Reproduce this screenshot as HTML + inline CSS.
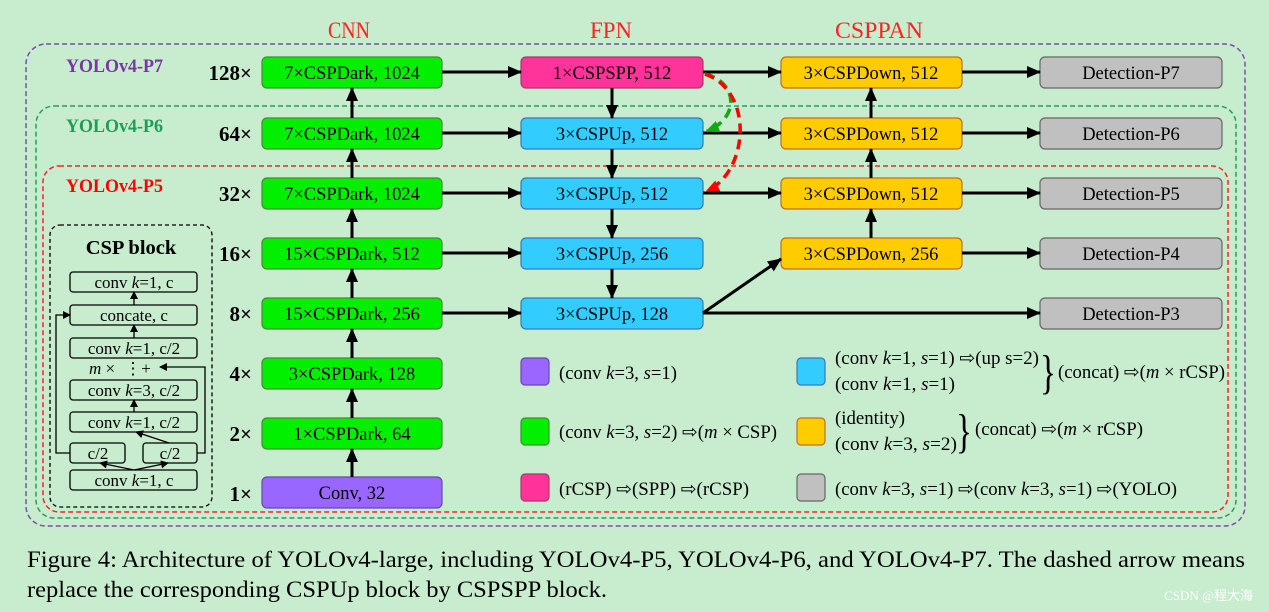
<!DOCTYPE html>
<html><head><meta charset="utf-8"><style>
html,body{margin:0;padding:0;background:#c7ecce;}
svg{display:block}
text{font-family:"Liberation Serif",serif;}
</style></head><body>
<svg width="1269" height="612" viewBox="0 0 1269 612" xmlns="http://www.w3.org/2000/svg">
<defs>
<marker id="a" markerWidth="8" markerHeight="8" refX="7" refY="4" orient="auto" markerUnits="userSpaceOnUse" viewBox="0 0 8 8"><path d="M0,0 L8,4 L0,8 z" fill="#000"/></marker>
<marker id="ab" markerWidth="14" markerHeight="12" refX="13" refY="6" orient="auto" markerUnits="userSpaceOnUse" viewBox="0 0 14 12"><path d="M0,0 L14,6 L0,12 z" fill="#000"/></marker>
<marker id="ar" markerWidth="14" markerHeight="12" refX="12" refY="6" orient="auto" markerUnits="userSpaceOnUse" viewBox="0 0 14 12"><path d="M0,0 L14,6 L0,12 z" fill="#f00"/></marker>
<marker id="ag" markerWidth="14" markerHeight="12" refX="12" refY="6" orient="auto" markerUnits="userSpaceOnUse" viewBox="0 0 14 12"><path d="M0,0 L14,6 L0,12 z" fill="#1a1"/></marker>
</defs>
<rect width="1269" height="612" fill="#c7ecce"/>
<text x="349" y="38" font-size="23" fill="#f22" text-anchor="middle" textLength="42" lengthAdjust="spacingAndGlyphs">CNN</text>
<text x="611" y="38" font-size="23" fill="#f22" text-anchor="middle" textLength="42" lengthAdjust="spacingAndGlyphs">FPN</text>
<text x="879" y="38" font-size="23" fill="#f22" text-anchor="middle" textLength="88" lengthAdjust="spacingAndGlyphs">CSPPAN</text>
<rect x="26" y="44" width="1219" height="482" rx="20" fill="none" stroke="#7b4fa8" stroke-width="1.5" stroke-dasharray="5,3"/>
<rect x="36" y="106" width="1200" height="412" rx="18" fill="none" stroke="#22a060" stroke-width="1.5" stroke-dasharray="5,3"/>
<rect x="43" y="166" width="1185" height="346" rx="16" fill="none" stroke="#f22" stroke-width="1.5" stroke-dasharray="5,3"/>
<g font-weight="bold" font-size="19">
<text x="66" y="72" fill="#7b35a8" textLength="97" lengthAdjust="spacingAndGlyphs">YOLOv4-P7</text>
<text x="66" y="132" fill="#1e9e55" textLength="97" lengthAdjust="spacingAndGlyphs">YOLOv4-P6</text>
<text x="66" y="192" fill="#f00" textLength="97" lengthAdjust="spacingAndGlyphs">YOLOv4-P5</text>
</g>
<g font-weight="bold" font-size="21" text-anchor="end">
<text x="252" y="80">128×</text>
<text x="252" y="141">64×</text>
<text x="252" y="201">32×</text>
<text x="252" y="261">16×</text>
<text x="252" y="321">8×</text>
<text x="252" y="381">4×</text>
<text x="252" y="441">2×</text>
<text x="252" y="501">1×</text>
</g>
<g stroke="#4a8a3a" stroke-width="1.2" fill="#00f000">
<rect x="262" y="57" width="180" height="31" rx="5"/>
<rect x="262" y="118" width="180" height="31" rx="5"/>
<rect x="262" y="178" width="180" height="31" rx="5"/>
<rect x="262" y="238" width="180" height="31" rx="5"/>
<rect x="262" y="298" width="180" height="31" rx="5"/>
<rect x="262" y="358" width="180" height="31" rx="5"/>
<rect x="262" y="418" width="180" height="31" rx="5"/>
</g>
<rect x="262" y="477" width="180" height="31" rx="5" fill="#9966ff" stroke="#6a4aa8" stroke-width="1.2"/>
<rect x="521" y="57" width="182" height="31" rx="5" fill="#ff3399" stroke="#a83a6a" stroke-width="1.2"/>
<g stroke="#3a78b8" stroke-width="1.2" fill="#33ccff">
<rect x="521" y="118" width="182" height="31" rx="5"/>
<rect x="521" y="178" width="182" height="31" rx="5"/>
<rect x="521" y="238" width="182" height="31" rx="5"/>
<rect x="521" y="298" width="182" height="31" rx="5"/>
</g>
<g stroke="#c07020" stroke-width="1.2" fill="#ffcc00">
<rect x="781" y="57" width="181" height="31" rx="5"/>
<rect x="781" y="118" width="181" height="31" rx="5"/>
<rect x="781" y="178" width="181" height="31" rx="5"/>
<rect x="781" y="238" width="181" height="31" rx="5"/>
</g>
<g stroke="#666" stroke-width="1.2" fill="#c0c0c0">
<rect x="1040" y="57" width="182" height="31" rx="5"/>
<rect x="1040" y="118" width="182" height="31" rx="5"/>
<rect x="1040" y="178" width="182" height="31" rx="5"/>
<rect x="1040" y="238" width="182" height="31" rx="5"/>
<rect x="1040" y="298" width="182" height="31" rx="5"/>
</g>
<g font-size="18.5" text-anchor="middle">
<text x="352" y="79">7×CSPDark, 1024</text>
<text x="352" y="140">7×CSPDark, 1024</text>
<text x="352" y="200">7×CSPDark, 1024</text>
<text x="352" y="260">15×CSPDark, 512</text>
<text x="352" y="320">15×CSPDark, 256</text>
<text x="352" y="380">3×CSPDark, 128</text>
<text x="352" y="440">1×CSPDark, 64</text>
<text x="352" y="499">Conv, 32</text>
<text x="612" y="79">1×CSPSPP, 512</text>
<text x="612" y="140">3×CSPUp, 512</text>
<text x="612" y="200">3×CSPUp, 512</text>
<text x="612" y="260">3×CSPUp, 256</text>
<text x="612" y="320">3×CSPUp, 128</text>
<text x="871" y="79">3×CSPDown, 512</text>
<text x="871" y="140">3×CSPDown, 512</text>
<text x="871" y="200">3×CSPDown, 512</text>
<text x="871" y="260">3×CSPDown, 256</text>
<text x="1131" y="79">Detection-P7</text>
<text x="1131" y="140">Detection-P6</text>
<text x="1131" y="200">Detection-P5</text>
<text x="1131" y="260">Detection-P4</text>
<text x="1131" y="320">Detection-P3</text>
</g>
<g stroke="#000" stroke-width="3" fill="none" marker-end="url(#ab)">
<line x1="352" y1="477" x2="352" y2="449"/>
<line x1="352" y1="418" x2="352" y2="389"/>
<line x1="352" y1="358" x2="352" y2="329"/>
<line x1="352" y1="298" x2="352" y2="269"/>
<line x1="352" y1="238" x2="352" y2="209"/>
<line x1="352" y1="178" x2="352" y2="149"/>
<line x1="352" y1="118" x2="352" y2="88"/>
<line x1="442" y1="72" x2="521" y2="72"/>
<line x1="442" y1="133" x2="521" y2="133"/>
<line x1="442" y1="193" x2="521" y2="193"/>
<line x1="442" y1="253" x2="521" y2="253"/>
<line x1="442" y1="313" x2="521" y2="313"/>
<line x1="612" y1="88" x2="612" y2="118"/>
<line x1="612" y1="149" x2="612" y2="178"/>
<line x1="612" y1="209" x2="612" y2="238"/>
<line x1="612" y1="269" x2="612" y2="298"/>
<line x1="703" y1="72" x2="781" y2="72"/>
<line x1="703" y1="133" x2="781" y2="133"/>
<line x1="703" y1="193" x2="781" y2="193"/>
<line x1="703" y1="313" x2="781" y2="259"/>
<line x1="703" y1="313" x2="1040" y2="313"/>
<line x1="871" y1="238" x2="871" y2="209"/>
<line x1="871" y1="178" x2="871" y2="149"/>
<line x1="871" y1="118" x2="871" y2="88"/>
<line x1="962" y1="72" x2="1040" y2="72"/>
<line x1="962" y1="133" x2="1040" y2="133"/>
<line x1="962" y1="193" x2="1040" y2="193"/>
<line x1="962" y1="253" x2="1040" y2="253"/>
</g>
<path d="M705,74 C738,82 740,118 707,131" stroke="#1a1" stroke-width="3.5" fill="none" stroke-dasharray="10,6" marker-end="url(#ag)"/>
<path d="M705,74 C755,92 748,172 707,191" stroke="#f00" stroke-width="3.5" fill="none" stroke-dasharray="10,6" marker-end="url(#ar)"/>
<rect x="50" y="225" width="162" height="282" rx="10" fill="none" stroke="#000" stroke-width="1.3" stroke-dasharray="4,3"/>
<text x="131" y="254" font-size="20.5" font-weight="bold" text-anchor="middle">CSP block</text>
<g fill="none" stroke="#000" stroke-width="1.3">
<rect x="70" y="272" width="127" height="20" rx="3"/>
<rect x="70" y="305" width="127" height="20" rx="3"/>
<rect x="70" y="338" width="127" height="20" rx="3"/>
<rect x="70" y="380" width="127" height="20" rx="3"/>
<rect x="70" y="412" width="127" height="20" rx="3"/>
<rect x="70" y="443" width="55" height="20" rx="3"/>
<rect x="143" y="443" width="54" height="20" rx="3"/>
<rect x="70" y="470" width="127" height="20" rx="3"/>
</g>
<g stroke="#000" stroke-width="1.3" fill="none" marker-end="url(#a)">
<line x1="134" y1="305" x2="134" y2="292"/>
<line x1="134" y1="338" x2="134" y2="325"/>
<line x1="134" y1="412" x2="134" y2="400"/>
<line x1="169" y1="443" x2="136" y2="432"/>
<line x1="134" y1="470" x2="100" y2="463"/>
<line x1="134" y1="470" x2="168" y2="463"/>
<polyline points="70,453 56,453 56,315 70,315"/>
<polyline points="197,453 205,453 205,367 160,367"/>
</g>
<g font-size="17" text-anchor="middle">
<text x="134" y="288">conv <tspan font-style="italic">k</tspan>=1, c</text>
<text x="134" y="321">concate, c</text>
<text x="134" y="354">conv <tspan font-style="italic">k</tspan>=1, c/2</text>
<text x="134" y="396">conv <tspan font-style="italic">k</tspan>=3, c/2</text>
<text x="134" y="428">conv <tspan font-style="italic">k</tspan>=1, c/2</text>
<text x="98" y="459">c/2</text>
<text x="170" y="459">c/2</text>
<text x="134" y="486">conv <tspan font-style="italic">k</tspan>=1, c</text>
<text x="102" y="374"><tspan font-style="italic">m</tspan> ×</text>
<text x="133" y="374">⋮</text>
<text x="146" y="374">+</text>
</g>
<rect x="521" y="358" width="28" height="27" rx="4" fill="#9966ff" stroke="#6a4aa8" stroke-width="1.2"/>
<rect x="521" y="418" width="28" height="27" rx="4" fill="#00f000" stroke="#4a8a3a" stroke-width="1.2"/>
<rect x="521" y="474" width="28" height="27" rx="4" fill="#ff3399" stroke="#a83a6a" stroke-width="1.2"/>
<rect x="797" y="358" width="28" height="27" rx="4" fill="#33ccff" stroke="#3a78b8" stroke-width="1.2"/>
<rect x="797" y="418" width="28" height="27" rx="4" fill="#ffcc00" stroke="#c07020" stroke-width="1.2"/>
<rect x="797" y="474" width="28" height="27" rx="4" fill="#c0c0c0" stroke="#666" stroke-width="1.2"/>
<g font-size="18.5">
<text x="559" y="379" textLength="118" lengthAdjust="spacingAndGlyphs">(conv <tspan font-style="italic">k</tspan>=3, <tspan font-style="italic">s</tspan>=1)</text>
<text x="559" y="438" textLength="218" lengthAdjust="spacingAndGlyphs">(conv <tspan font-style="italic">k</tspan>=3, <tspan font-style="italic">s</tspan>=2) ⇨(<tspan font-style="italic">m</tspan> × CSP)</text>
<text x="559" y="495" textLength="190" lengthAdjust="spacingAndGlyphs">(rCSP) ⇨(SPP) ⇨(rCSP)</text>
<text x="835" y="364" textLength="204" lengthAdjust="spacingAndGlyphs">(conv <tspan font-style="italic">k</tspan>=1, <tspan font-style="italic">s</tspan>=1) ⇨(up s=2)</text>
<text x="835" y="390" textLength="120" lengthAdjust="spacingAndGlyphs">(conv <tspan font-style="italic">k</tspan>=1, <tspan font-style="italic">s</tspan>=1)</text>
<text x="1058" y="378" textLength="167" lengthAdjust="spacingAndGlyphs">(concat) ⇨(<tspan font-style="italic">m</tspan> × rCSP)</text>
<text x="835" y="424" textLength="70" lengthAdjust="spacingAndGlyphs">(identity)</text>
<text x="835" y="450" textLength="122" lengthAdjust="spacingAndGlyphs">(conv <tspan font-style="italic">k</tspan>=3, <tspan font-style="italic">s</tspan>=2)</text>
<text x="975" y="435" textLength="168" lengthAdjust="spacingAndGlyphs">(concat) ⇨(<tspan font-style="italic">m</tspan> × rCSP)</text>
<text x="835" y="495" textLength="342" lengthAdjust="spacingAndGlyphs">(conv <tspan font-style="italic">k</tspan>=3, <tspan font-style="italic">s</tspan>=1) ⇨(conv <tspan font-style="italic">k</tspan>=3, <tspan font-style="italic">s</tspan>=1) ⇨(YOLO)</text>
</g>
<text x="1040" y="388" font-size="48" textLength="16" lengthAdjust="spacingAndGlyphs">}</text>
<text x="956" y="447" font-size="48" textLength="16" lengthAdjust="spacingAndGlyphs">}</text>
<g font-size="23">
<text x="27" y="567" textLength="1218" lengthAdjust="spacingAndGlyphs">Figure 4: Architecture of YOLOv4-large, including YOLOv4-P5, YOLOv4-P6, and YOLOv4-P7. The dashed arrow means</text>
<text x="27" y="597" textLength="580" lengthAdjust="spacingAndGlyphs">replace the corresponding CSPUp block by CSPSPP block.</text>
</g>
<text x="1253" y="600" font-size="13" fill="#fff" text-anchor="end" font-family="Liberation Sans, Noto Sans CJK SC, sans-serif">CSDN @程大海</text>
</svg>
</body></html>
